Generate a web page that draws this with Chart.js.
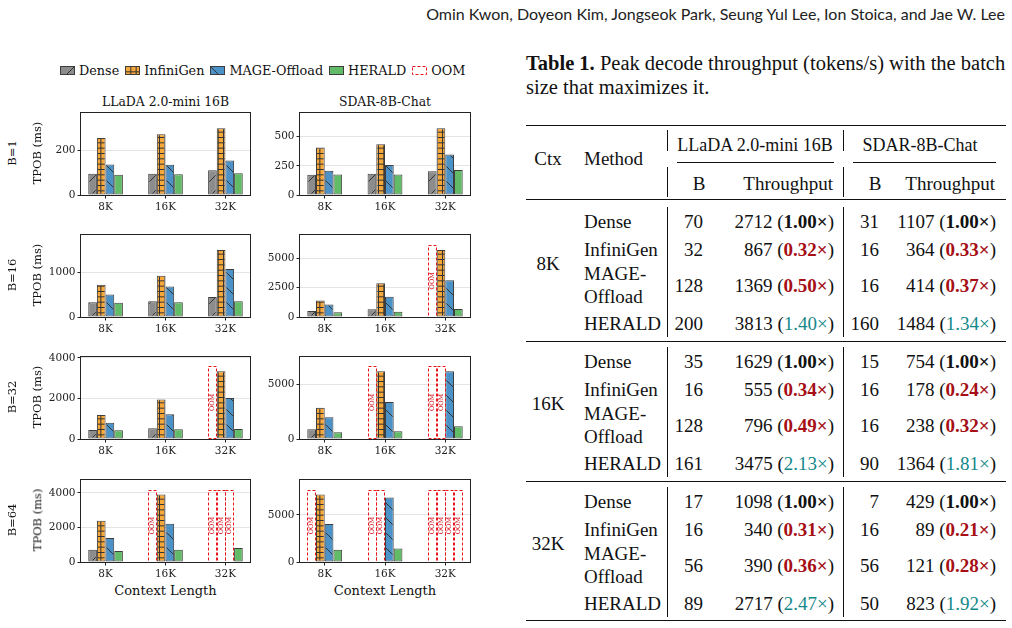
<!DOCTYPE html>
<html>
<head>
<meta charset="utf-8">
<script src="https://cdn.jsdelivr.net/npm/chart.js@4.4.1/dist/chart.umd.min.js"></script>
<style>
  body { margin: 0; width: 1012px; height: 628px; overflow: hidden; position: relative; background: #fff; color: #111; font-family: 'DejaVu Serif', serif; }
  canvas { position: absolute; }
  .t { position: absolute; white-space: nowrap; line-height: 1; }
  .tbl { font-family: 'Liberation Serif', serif; font-size: 19px; color: #111; }
  .cap { font-size: 20.5px; }
  .model { font-size: 18px; }
  .rule { position: absolute; background: #111; }
  .legend { position: absolute; left: 60px; top: 63px; display: flex; align-items: center; font-size: 12.8px; }
  .legend span.item { display: flex; align-items: center; margin-right: 6px; }
  .legend canvas { position: static; margin-right: 4px; }
</style>
</head>
<body>

<div class="t" style="right:7px; top:14px; transform:translateY(-50%); font-family:Lato, sans-serif; font-size:16px; color:#222;">Omin Kwon, Doyeon Kim, Jongseok Park, Seung Yul Lee, Ion Stoica, and Jae W. Lee</div>

<div class="legend" id="legend"></div>
<div id="figure"></div>
<div id="table" class="tbl"></div>

<script>
// ---- chart data (rows = method, columns = context, null = OOM) ----
const contexts = ['8K', '16K', '32K'];
const methods = ['Dense', 'InfiniGen', 'MAGE-Offload', 'HERALD'];
const batchLabels = ['B=1', 'B=16', 'B=32', 'B=64'];
const modelNames = ['LLaDA 2.0-mini 16B', 'SDAR-8B-Chat'];

const lladaB1 = [[95, 95, 110], [254, 271, 297], [136, 135, 154], [90, 92, 97]];
const lladaB16 = [[330, 352, 446], [719, 920, 1496], [503, 680, 1072], [320, 330, 352]];
const lladaB32 = [[450, 530, null], [1189, 1944, 3341], [803, 1221, 2024], [434, 482, 498]];
const lladaB64 = [[714, null, null], [2385, 3906, null], [1390, 2216, null], [638, 714, 808]];

const sdarB1 = [[173, 181, 203], [406, 434, 571], [208, 258, 346], [175, 175, 214]];
const sdarB16 = [[522, 659, null], [1401, 2885, 5714], [1071, 1731, 3132], [412, 440, 687]];
const sdarB32 = [[898, null, null], [2874, 6228, null], [2006, 3413, 6228], [629, 719, 1168]];
const sdarB64 = [[null, null, null], [7172, null, null], [4034, 6862, null], [1310, 1448, null]];

// height of the OOM marker box per panel
const lladaOom = [null, null, 3582, 4188];
const sdarOom = [null, 6154, 6677, 7690];

// y-axis limits and tick labels
const lladaYMax = [364, 1827, 4032, 4732];
const sdarYMax = [700, 6980, 7515, 8690];
const lladaTicks = [[0, 200], [0, 1000], [0, 2000, 4000], [0, 2000, 4000]];
const sdarTicks = [[0, 250, 500], [0, 2500, 5000], [0, 5000], [0, 5000]];

// ---- table data ----
const tableCtx = ['8K', '16K', '32K'];
const tableMethods = ['Dense', 'InfiniGen', 'MAGE-Offload', 'HERALD'];
const lladaBatch = [[70, 32, 128, 200], [35, 16, 128, 161], [17, 16, 56, 89]];
const lladaTput = [[2712, 867, 1369, 3813], [1629, 555, 796, 3475], [1098, 340, 390, 2717]];
const lladaSpeedup = [['1.00', '0.32', '0.50', '1.40'], ['1.00', '0.34', '0.49', '2.13'], ['1.00', '0.31', '0.36', '2.47']];
const sdarBatch = [[31, 16, 16, 160], [15, 16, 16, 90], [7, 16, 56, 50]];
const sdarTput = [[1107, 364, 414, 1484], [754, 178, 238, 1364], [429, 89, 121, 823]];
const sdarSpeedup = [['1.00', '0.33', '0.37', '1.34'], ['1.00', '0.24', '0.32', '1.81'], ['1.00', '0.21', '0.28', '1.92']];

// ---- hatch patterns ----
const fills = ['#8c8c8c', '#f7a83b', '#4a92c8', '#62bb67'];
const hatchColor = '#333333';

function makePattern(bg, kind) {
  const c = document.createElement('canvas');
  const s = kind === 'grid' ? 16 : 15;
  c.width = s; c.height = s;
  const g = c.getContext('2d');
  g.fillStyle = bg;
  g.fillRect(0, 0, s, s);
  g.strokeStyle = hatchColor;
  g.lineWidth = 1;
  g.beginPath();
  if (kind === 'fwd') {
    g.moveTo(-1, s + 1); g.lineTo(s + 1, -1);
    g.moveTo(-1, 1); g.lineTo(1, -1);
    g.moveTo(s - 1, s + 1); g.lineTo(s + 1, s - 1);
  } else if (kind === 'back') {
    g.moveTo(-1, -1); g.lineTo(s + 1, s + 1);
    g.moveTo(s - 1, -1); g.lineTo(s + 1, 1);
    g.moveTo(-1, s - 1); g.lineTo(1, s + 1);
  } else if (kind === 'grid') {
    for (let k = 0; k < 3; k++) {
      const p = 0.5 + k * s / 3;
      g.moveTo(0, p); g.lineTo(s, p);
      g.moveTo(p, 0); g.lineTo(p, s);
    }
  }
  g.stroke();
  return g.createPattern(c, 'repeat');
}
const hatchKinds = ['fwd', 'grid', 'back', 'none'];
const patterns = fills.map((f, i) => makePattern(f, hatchKinds[i]));

// ---- legend ----
const legend = document.getElementById('legend');
methods.concat(['OOM']).forEach((name, i) => {
  const item = document.createElement('span');
  item.className = 'item';
  const sw = document.createElement('canvas');
  sw.width = 15; sw.height = 9;
  const g = sw.getContext('2d');
  if (i < methods.length) {
    g.fillStyle = patterns[i];
    g.fillRect(0, 0, 15, 9);
    g.strokeStyle = '#3d3d3d';
    g.strokeRect(0.5, 0.5, 14, 8);
  } else {
    g.strokeStyle = '#e8141b';
    g.setLineDash([3, 2]);
    g.strokeRect(0.5, 0.5, 14, 8);
  }
  item.appendChild(sw);
  item.appendChild(document.createTextNode(name));
  legend.appendChild(item);
});

// ---- plugins ----
const oomBoxes = {
  id: 'oomBoxes',
  afterDatasetsDraw(chart) {
    const ctx = chart.ctx;
    chart.data.datasets.forEach((ds, di) => {
      if (!ds.oom) return;
      chart.getDatasetMeta(di).data.forEach((bar, j) => {
        if (ds.data[j].y === null) return;
        const p = bar.getProps(['x', 'y', 'base', 'width'], true);
        ctx.save();
        ctx.strokeStyle = '#e8141b';
        ctx.lineWidth = 1;
        ctx.setLineDash([3, 2]);
        const l = Math.round(p.x - p.width / 2) + 0.5;
        const t = Math.round(p.y) + 0.5;
        ctx.strokeRect(l, t, Math.round(p.width) - 1, Math.round(p.base - p.y));
        ctx.translate(p.x, (p.y + p.base) / 2);
        ctx.rotate(-Math.PI / 2);
        ctx.fillStyle = '#d3121b';
        ctx.font = '6.5px "DejaVu Serif"';
        ctx.textAlign = 'center';
        ctx.textBaseline = 'middle';
        ctx.fillText('OOM', 0, 0);
        ctx.restore();
      });
    });
  },
  afterDraw(chart) {
    const a = chart.chartArea;
    const ctx = chart.ctx;
    ctx.save();
    ctx.strokeStyle = '#222';
    ctx.lineWidth = 1;
    ctx.strokeRect(Math.round(a.left) - 0.5, Math.round(a.top) - 0.5, Math.round(a.right - a.left) + 1, Math.round(a.bottom - a.top) + 1);
    ctx.restore();
  }
};

function buildDatasets(values, oomHeight) {
  const sets = [];
  methods.forEach((m, i) => {
    sets.push({
      label: m,
      stack: 's' + i,
      data: values[i].map((v, j) => ({ x: j, y: v })),
      backgroundColor: patterns[i],
      borderColor: '#3d3d3d',
      borderWidth: 1,
      borderSkipped: false
    });
    sets.push({
      label: 'OOM',
      oom: true,
      stack: 's' + i,
      data: values[i].map((v, j) => ({ x: j, y: v === null ? oomHeight : null })),
      backgroundColor: 'rgba(0,0,0,0)',
      borderWidth: 0
    });
  });
  return sets;
}

// ---- layout ----
const plotTops = [111, 233, 355, 478];
const plotH = 84;
const colLeft = [81, 300];
const colW = [169, 170];
const axisW = 50, padTop = 6, padRight = 6, axisH = 20;

const figure = document.getElementById('figure');
const tickFont = { family: 'DejaVu Serif', size: 10.5 };

function addText(parent, text, x, y, style) {
  const d = document.createElement('div');
  d.className = 't';
  d.textContent = text;
  d.style.left = x + 'px';
  d.style.top = y + 'px';
  d.style.transform = 'translate(-50%, -50%)' + (style.rotate ? ' rotate(-90deg)' : '');
  d.style.fontSize = style.size + 'px';
  parent.appendChild(d);
  return d;
}

const panelValues = [[lladaB1, lladaB16, lladaB32, lladaB64], [sdarB1, sdarB16, sdarB32, sdarB64]];
const panelOom = [lladaOom, sdarOom];
const panelYMax = [lladaYMax, sdarYMax];
const panelTicks = [lladaTicks, sdarTicks];

for (let col = 0; col < 2; col++) {
  const cx = colLeft[col] + colW[col] / 2;
  addText(figure, modelNames[col], cx, 101.5, { size: 12.4 });
  addText(figure, 'Context Length', cx, 590, { size: 13 });
  for (let row = 0; row < 4; row++) {
    const canvas = document.createElement('canvas');
    canvas.width = axisW + colW[col] + padRight;
    canvas.height = padTop + plotH + axisH;
    canvas.style.left = (colLeft[col] - axisW) + 'px';
    canvas.style.top = (plotTops[row] - padTop) + 'px';
    figure.appendChild(canvas);

    const ticks = panelTicks[col][row];
    new Chart(canvas, {
      type: 'bar',
      data: { datasets: buildDatasets(panelValues[col][row], panelOom[col][row]) },
      options: {
        responsive: false,
        animation: false,
        devicePixelRatio: 1,
        categoryPercentage: 0.578,
        barPercentage: 1,
        layout: { padding: { top: padTop, right: padRight, left: 0, bottom: 0 } },
        plugins: { legend: { display: false }, tooltip: { enabled: false } },
        scales: {
          x: {
            type: 'linear',
            min: -0.41,
            max: 2.41,
            offset: false,
            afterFit(scale) { scale.height = axisH; },
            afterBuildTicks(scale) { scale.ticks = contexts.map((c, i) => ({ value: i })); },
            ticks: { font: tickFont, color: '#222', padding: 2, maxRotation: 0, autoSkip: false,
              callback: v => contexts[v] },
            grid: { drawOnChartArea: false, offset: false, tickLength: 3.5, tickColor: '#222' },
            border: { display: false }
          },
          y: {
            stacked: true,
            min: 0,
            max: panelYMax[col][row],
            afterFit(scale) { scale.width = axisW; },
            afterBuildTicks(scale) { scale.ticks = ticks.map(v => ({ value: v })); },
            ticks: { font: tickFont, color: '#222', padding: 2, callback: v => String(v) },
            grid: { color: '#e4e4e4', tickLength: 3.5, tickColor: '#222' },
            border: { display: false }
          }
        }
      },
      plugins: [oomBoxes]
    });

    if (col === 0) {
      const cy = plotTops[row] + plotH / 2;
      addText(figure, batchLabels[row], 13, cy, { size: 11.5, rotate: true });
      addText(figure, 'TPOB (ms)', 38, cy, { size: 11.5, rotate: true });
    }
  }
}

// ---- table ----
const table = document.getElementById('table');
const red = '#a50f15', teal = '#13888a';

function put(html, x, y, align, cls) {
  const d = document.createElement('div');
  d.className = 't' + (cls ? ' ' + cls : '');
  d.innerHTML = html;
  d.style.top = y + 'px';
  if (align === 'right') { d.style.right = (1012 - x) + 'px'; d.style.transform = 'translateY(-50%)'; }
  else if (align === 'center') { d.style.left = x + 'px'; d.style.transform = 'translate(-50%, -50%)'; }
  else { d.style.left = x + 'px'; d.style.transform = 'translateY(-50%)'; }
  table.appendChild(d);
}
function rule(x, y, w, h) {
  const d = document.createElement('div');
  d.className = 'rule';
  d.style.left = x + 'px'; d.style.top = y + 'px';
  d.style.width = w + 'px'; d.style.height = h + 'px';
  table.appendChild(d);
}
function speed(s) {
  const v = parseFloat(s);
  if (v === 1) return '(<b>' + s + '\u00d7</b>)';
  if (v < 1) return '(<b style="color:' + red + '">' + s + '\u00d7</b>)';
  return '(<span style="color:' + teal + '">' + s + '\u00d7</span>)';
}

put('<b>Table 1.</b> Peak decode throughput (tokens/s) with the batch', 526, 63, 'left', 'cap');
put('size that maximizes it.', 526, 87, 'left', 'cap');

rule(526, 125, 480, 1.4);
put('Ctx', 548, 158, 'center');
put('Method', 584, 158, 'left');
put('LLaDA 2.0-mini 16B', 755, 145, 'center', 'model');
put('SDAR-8B-Chat', 920, 145, 'center', 'model');
rule(677, 162, 157, 0.9);
rule(853, 162, 143, 0.9);
put('B', 699, 183, 'center');
put('Throughput', 833, 183, 'right');
put('B', 875, 183, 'center');
put('Throughput', 995, 183, 'right');
rule(667, 130, 1, 21);
rule(843, 130, 1, 21);
rule(667, 167, 1, 30);
rule(843, 167, 1, 30);
rule(526, 198.5, 480, 1);

const rowOffsets = [0, 28, 64, 102];
tableCtx.forEach((ctxName, g) => {
  const base = 221 + 140 * g;
  put(ctxName, 548, base + 42, 'center');
  tableMethods.forEach((m, i) => {
    const y = base + rowOffsets[i];
    if (m === 'MAGE-Offload') {
      put('MAGE-', 584, base + 52, 'left');
      put('Offload', 584, base + 75, 'left');
    } else {
      put(m, 584, y, 'left');
    }
    put(String(lladaBatch[g][i]), 703, y, 'right');
    put(lladaTput[g][i] + ' ' + speed(lladaSpeedup[g][i]), 834, y, 'right');
    put(String(sdarBatch[g][i]), 879, y, 'right');
    put(sdarTput[g][i] + ' ' + speed(sdarSpeedup[g][i]), 996, y, 'right');
  });
  rule(667, base - 14, 1, 130);
  rule(843, base - 14, 1, 130);
  if (g < 2) rule(526, base + 119.5, 480, 1);
});
rule(526, 620, 480, 1.4);
</script>
</body>
</html>
